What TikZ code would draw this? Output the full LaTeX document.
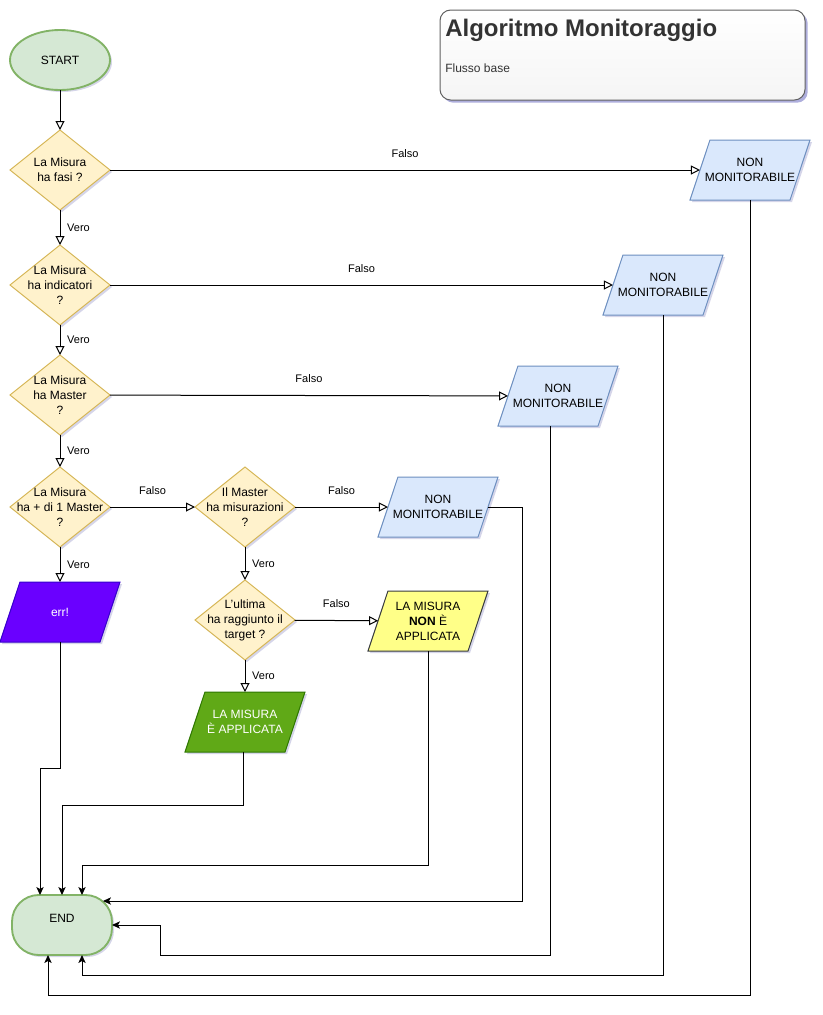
\documentclass[tikz,border=0pt]{standalone}
\usepackage{fontspec}
\setmainfont{Liberation Sans}
\usepackage{xcolor}
\usetikzlibrary{shapes.geometric, arrows.meta, positioning, calc, shadows}

\definecolor{termfill}{HTML}{D5E8D4}
\definecolor{termline}{HTML}{82B366}
\definecolor{decfill}{HTML}{FFF2CC}
\definecolor{decline}{HTML}{D6B656}
\definecolor{nmfill}{HTML}{DAE8FC}
\definecolor{nmline}{HTML}{6C8EBF}
\definecolor{errfill}{HTML}{6A00FF}
\definecolor{errline}{HTML}{3700CC}
\definecolor{okfill}{HTML}{60A917}
\definecolor{okline}{HTML}{2D7600}
\definecolor{nofill}{HTML}{FFFF88}
\definecolor{noline}{HTML}{36393D}
\definecolor{titletext}{HTML}{333333}

\tikzset{
  txt/.style={font=\fontsize{9}{11.25}\selectfont, align=center, inner sep=0pt},
  shade/.style={drop shadow={shadow xshift=1.5pt, shadow yshift=-1.5pt, fill=gray!70!blue, opacity=0.25}},
  base/.style={txt, outer sep=0pt, line width=0.75pt, shade},
  terminal/.style={base, ellipse, draw=termline, fill=termfill, line width=1.4pt, minimum width=75pt, minimum height=45pt},
  endbox/.style={base, rectangle, rounded corners=20pt, draw=termline, fill=termfill, line width=1.4pt, minimum width=75pt, minimum height=45pt},
  decision/.style={base, diamond, draw=decline, fill=decfill, minimum width=75pt, minimum height=60pt},
  io/.style={base, trapezium, trapezium left angle=71.6, trapezium right angle=108.4,
    trapezium stretches body, inner xsep=0pt, inner ysep=22.5pt, minimum width=90pt},
  nonmon/.style={io, draw=nmline, fill=nmfill, label={[txt]center:NON\\MONITORABILE}},
  flow/.style={line width=0.75pt, -{Triangle[open, width=6.75pt, length=6.75pt]}},
  toend/.style={line width=0.75pt, -{Stealth[width=5.5pt, length=6pt, inset=1.5pt]}},
  lbl/.style={font=\fontsize{8.25}{10}\selectfont, inner sep=1pt},
}

\begin{document}
\begin{tikzpicture}[x=0.75pt, y=-0.75pt]
    \useasboundingbox (0,0) rectangle (823,1015);

    % Title card
    \node[rectangle, rounded corners=8pt, draw=gray!75!black, line width=0.75pt,
      top color=white, bottom color=gray!8, minimum width=273.75pt, minimum height=67.5pt,
      drop shadow={shadow xshift=2pt, shadow yshift=-2pt, fill=gray!60!blue, opacity=0.45}]
      (title) at (622.5,55) {};
    \node[anchor=west, inner sep=0pt, text=titletext, font=\bfseries\fontsize{18}{21}\selectfont]
      (titlename) at (445,30) {Algoritmo Monitoraggio};
    \node[anchor=west, inner sep=0pt, text=titletext, font=\fontsize{9}{11}\selectfont]
      (titlesub) at (445,68) {Flusso base};

    % Main column
    \node[terminal] (start) at (60,60) {START};
    \node[decision, label={[txt]center:La Misura\\ha fasi ?}] (d1) at (60,170) {};
    \node[decision, label={[txt]center:La Misura\\ha indicatori\\?}] (d2) at (60,285) {};
    \node[decision, label={[txt]center:La Misura\\ha Master\\?}] (d3) at (60,395) {};
    \node[decision, label={[txt]center:La Misura\\ha + di 1 Master\\?}] (d4) at (60,507) {};
    \node[io, draw=errline, fill=errfill, label={[txt, text=white]center:err!}] (err) at (60,612) {};

    % Second column
    \node[decision, label={[txt]center:Il Master\\ha misurazioni\\?}] (d5) at (245,507) {};
    \node[decision, label={[txt]center:L'ultima\\ha raggiunto il\\target ?}] (d6) at (245,620) {};
    \node[io, draw=okline, fill=okfill, label={[txt, text=white]center:LA MISURA\\È APPLICATA}] (ok) at (245,722) {};
    \node[io, draw=noline, fill=nofill, label={[txt]center:LA MISURA\\\textbf{NON} È\\APPLICATA}] (no) at (428,621) {};

    % Not monitorable outputs
    \node[nonmon] (nm1) at (750,170) {};
    \node[nonmon] (nm2) at (663,285) {};
    \node[nonmon] (nm3) at (558,396) {};
    \node[nonmon] (nm4) at (438,507) {};

    % End
    \node[endbox, label={[txt, yshift=5pt]center:END}] (end) at (62,925) {};

    % Decisions
    \draw[flow] (start) -- (d1);
    \draw[flow] (d1) -- node[lbl, right=4pt] {Vero} (d2);
    \draw[flow] (d2) -- node[lbl, right=4pt] {Vero} (d3);
    \draw[flow] (d3) -- node[lbl, right=4pt] {Vero} (d4);
    \draw[flow] (d4) -- node[lbl, right=4pt] {Vero} (err);
    \draw[flow] (d5) -- node[lbl, right=4pt] {Vero} (d6);
    \draw[flow] (d6) -- node[lbl, right=4pt] {Vero} (ok);
    \draw[flow] (d1) -- node[lbl, above=8pt] {Falso} (nm1);
    \draw[flow] (d2) -- node[lbl, above=8pt] {Falso} (nm2);
    \draw[flow] (d3) -- node[lbl, above=8pt] {Falso} (nm3);
    \draw[flow] (d4) -- node[lbl, above=8pt] {Falso} (d5);
    \draw[flow] (d5) -- node[lbl, above=8pt] {Falso} (nm4);
    \draw[flow] (d6) -- node[lbl, above=8pt] {Falso} (no);

    % Back to END
    \draw[toend] (err.center |- err.south) -- ++(0,126) -| ([xshift=-16.5pt]end.north);
    \draw[toend] ([xshift=-1.5pt]ok.center |- ok.south) -- ++(0,53) -| (end.north);
    \draw[toend] (no.center |- no.south) -- ++(0,214) -| ([xshift=15pt]end.north);
    \draw[toend] (nm4.east) -- ++(34,0) |- ([xshift=-6.75pt, yshift=-4.5pt]end.north east);
    \draw[toend] ([xshift=-6pt]nm3.center |- nm3.south) -- ++(0,529) -| ([xshift=36pt]end.east) -- (end.east);
    \draw[toend] (nm2.center |- nm2.south) -- ++(0,660) -| ([xshift=15pt]end.south);
    \draw[toend] (nm1.center |- nm1.south) -- ++(0,795) -| ([xshift=-10.5pt]end.south);
\end{tikzpicture}
\end{document}
